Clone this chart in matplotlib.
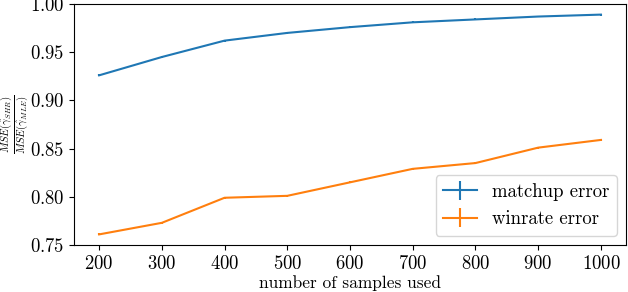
import matplotlib
matplotlib.use("Agg")
import matplotlib.pyplot as plt

plt.rcParams['font.family'] = 'serif'
plt.rcParams['font.serif'] = ['cmr10']
plt.rcParams['mathtext.fontset'] = 'cm'
plt.rcParams['axes.formatter.use_mathtext'] = True
plt.rcParams['font.size'] = 12.5

samples = [200, 300, 400, 500, 600, 700, 800, 900, 1000]
matchup_error = [0.926, 0.945, 0.962, 0.970, 0.976, 0.981, 0.984, 0.987, 0.989]
matchup_err = [0.001, 0.001, 0.001, 0.001, 0.001, 0.001, 0.001, 0.001, 0.001]
winrate_error = [0.761, 0.773, 0.799, 0.801, 0.815, 0.829, 0.835, 0.851, 0.859]
winrate_err = [0.001, 0.001, 0.001, 0.001, 0.001, 0.001, 0.001, 0.001, 0.001]

fig = plt.figure(figsize=(6.28, 2.92), dpi=100)
ax = fig.add_axes([74/628, 47/292, 552/628, 241/292])
ax.errorbar(samples, matchup_error, yerr=matchup_err, label='matchup error')
ax.errorbar(samples, winrate_error, yerr=winrate_err, label='winrate error')
ax.set_ylim(0.75, 1.00)
ax.set_xticks(samples)
ax.tick_params(labelsize=13.5)
ax.set_xlabel('number of samples used', labelpad=2)
ax.set_ylabel(r'$\frac{MSE(\hat{\gamma}_{SHR})}{MSE(\hat{\gamma}_{MLE})}$',
              fontsize=11, va='center')
ax.yaxis.set_label_coords(-0.105, 0.5)
ax.legend(loc='lower right', handlelength=1.8, fontsize=13.5)
fig.savefig('out.png', dpi=100)
